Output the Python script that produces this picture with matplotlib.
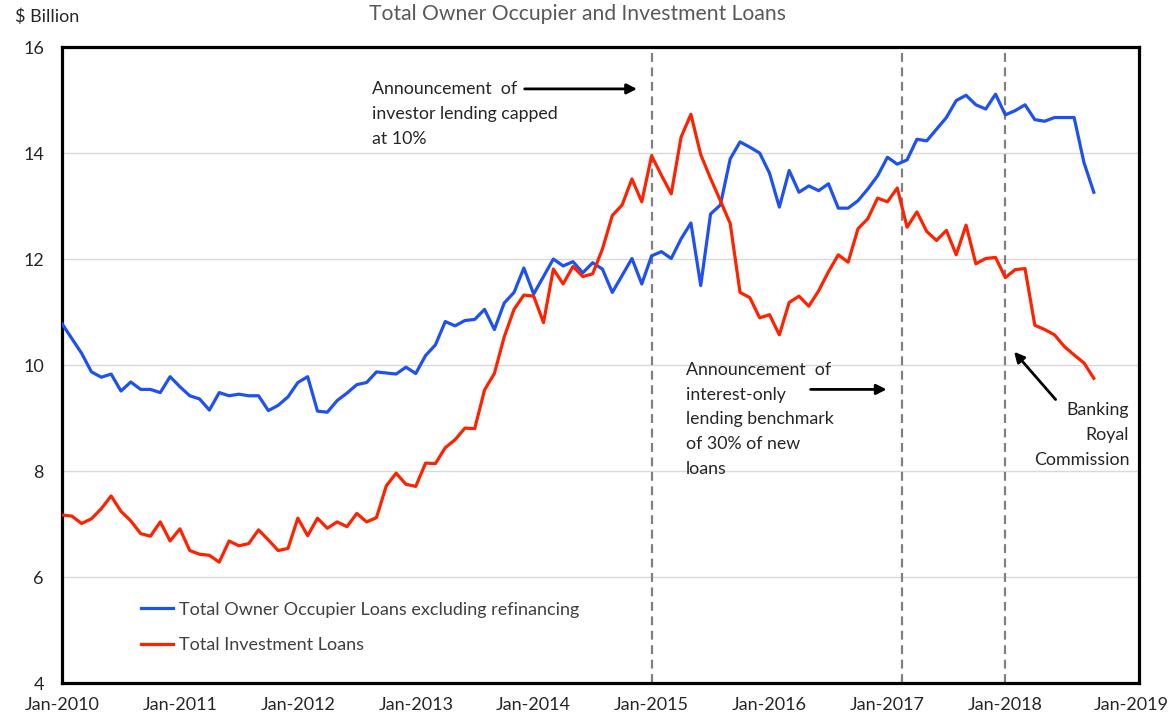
import matplotlib
matplotlib.use("Agg")
import matplotlib.pyplot as plt
import numpy as np

plt.rcParams['font.family'] = ['Lato', 'DejaVu Sans']

# monthly values, Jan-2010 .. Oct-2018 ($ billion)
owner_occupier = [10.78, 10.50, 10.22, 9.87, 9.77, 9.83, 9.51, 9.68, 9.54, 9.54, 9.48, 9.78,
                  9.59, 9.42, 9.36, 9.15, 9.48, 9.42, 9.45, 9.42, 9.42, 9.14, 9.24, 9.40,
                  9.67, 9.78, 9.13, 9.11, 9.33, 9.47, 9.63, 9.67, 9.87, 9.85, 9.83, 9.96,
                  9.84, 10.18, 10.38, 10.82, 10.74, 10.84, 10.86, 11.05, 10.67, 11.17, 11.37, 11.83,
                  11.34, 11.67, 12.00, 11.87, 11.95, 11.74, 11.93, 11.81, 11.37, 11.69, 12.01, 11.53,
                  12.06, 12.14, 12.01, 12.38, 12.68, 11.50, 12.85, 13.02, 13.89, 14.21, 14.11, 14.00,
                  13.62, 12.98, 13.67, 13.26, 13.38, 13.29, 13.42, 12.96, 12.96, 13.10, 13.32, 13.57,
                  13.92, 13.79, 13.87, 14.26, 14.23, 14.45, 14.67, 14.99, 15.09, 14.91, 14.83, 15.11,
                  14.72, 14.80, 14.91, 14.63, 14.60, 14.67, 14.67, 14.67, 13.82, 13.26]
investment = [7.17, 7.15, 7.01, 7.10, 7.29, 7.53, 7.24, 7.06, 6.82, 6.77, 7.04, 6.68,
              6.91, 6.50, 6.43, 6.41, 6.28, 6.68, 6.59, 6.63, 6.89, 6.70, 6.50, 6.54,
              7.11, 6.78, 7.11, 6.92, 7.04, 6.95, 7.20, 7.04, 7.12, 7.72, 7.96, 7.75,
              7.71, 8.15, 8.14, 8.44, 8.59, 8.81, 8.80, 9.53, 9.84, 10.53, 11.05, 11.32,
              11.30, 10.80, 11.81, 11.53, 11.86, 11.67, 11.72, 12.19, 12.82, 13.02, 13.51, 13.08,
              13.95, 13.58, 13.23, 14.30, 14.73, 13.97, 13.52, 13.10, 12.67, 11.37, 11.27, 10.89,
              10.95, 10.57, 11.18, 11.30, 11.11, 11.40, 11.76, 12.08, 11.94, 12.57, 12.76, 13.15,
              13.08, 13.34, 12.60, 12.89, 12.52, 12.35, 12.54, 12.08, 12.64, 11.91, 12.01, 12.03,
              11.65, 11.80, 11.82, 10.75, 10.67, 10.57, 10.35, 10.19, 10.04, 9.75]
year_labels = ['Jan-2010', 'Jan-2011', 'Jan-2012', 'Jan-2013', 'Jan-2014',
               'Jan-2015', 'Jan-2016', 'Jan-2017', 'Jan-2018', 'Jan-2019']
# policy events (months since Jan-2010)
event_months = [60, 85.5, 96]

months = np.arange(len(owner_occupier))

fig = plt.figure(figsize=(11.7, 7.18), dpi=100)
ax = fig.add_axes([0.053, 0.0487, 0.9205, 0.8858])

for y in np.arange(6, 16, 2):
    ax.axhline(y, color='#d9d9d9', lw=1, zorder=0)
for m in event_months:
    ax.axvline(m, color='#808080', lw=1.6, ls=(0, (4, 2.5)), zorder=1)

ax.plot(months, owner_occupier, color='#1f50f0', lw=2.3,
        label='Total Owner Occupier Loans excluding refinancing', zorder=3)
ax.plot(months, investment, color='#ff2200', lw=2.3,
        label='Total Investment Loans', zorder=3)

ax.set_xlim(0, 109.6)
ax.set_ylim(4, 16)
ax.set_yticks(np.arange(4, 17, 2))
ax.set_yticklabels([str(v) for v in range(4, 17, 2)], fontsize=13, color='#262626')
xt = list(np.arange(0, 108, 12)) + [108.8]
ax.set_xticks(xt)
ax.set_xticklabels(year_labels, fontsize=13, color='#262626',
                   family=['Liberation Sans Narrow', 'Lato', 'DejaVu Sans'])
ax.tick_params(axis='y', length=0, pad=13)
ax.tick_params(axis='x', length=0, pad=10)
for s in ax.spines.values():
    s.set_linewidth(2.3)
    s.set_color('black')

leg = ax.legend(loc='upper left', bbox_to_anchor=(0.073, 0.128), frameon=False,
                fontsize=13, handlelength=1.8, handletextpad=0.3,
                labelspacing=1.08, borderpad=0, borderaxespad=0)
for t in leg.get_texts():
    t.set_color('#404040')

fig.text(0.494, 0.98, 'Total Owner Occupier and Investment Loans', ha='center', va='center',
         fontsize=15.2, color='#595959')
fig.text(0.013, 0.977, '$ Billion', ha='left', va='center', fontsize=13, color='#262626')

note_kw = dict(fontsize=12.8, color='#262626', linespacing=1.67, va='top')
arrow_kw = dict(arrowstyle='-|>', color='black', lw=2, mutation_scale=15)

ax.text(31.5, 15.35, 'Announcement  of\ninvestor lending capped\nat 10%', ha='left', **note_kw)
ax.annotate('', xy=(58.8, 15.21), xytext=(46.8, 15.21), arrowprops=arrow_kw)

ax.text(63.5, 10.06, 'Announcement  of\ninterest-only\nlending benchmark\nof 30% of new\nloans',
        ha='left', **note_kw)
ax.annotate('', xy=(84.2, 9.54), xytext=(75.9, 9.54), arrowprops=arrow_kw)

ax.text(108.6, 9.3, 'Banking\nRoyal\nCommission', ha='right', multialignment='right', **note_kw)
ax.annotate('', xy=(96.7, 10.29), xytext=(101.3, 9.31), arrowprops=arrow_kw)

fig.savefig('out.png', dpi=100)
